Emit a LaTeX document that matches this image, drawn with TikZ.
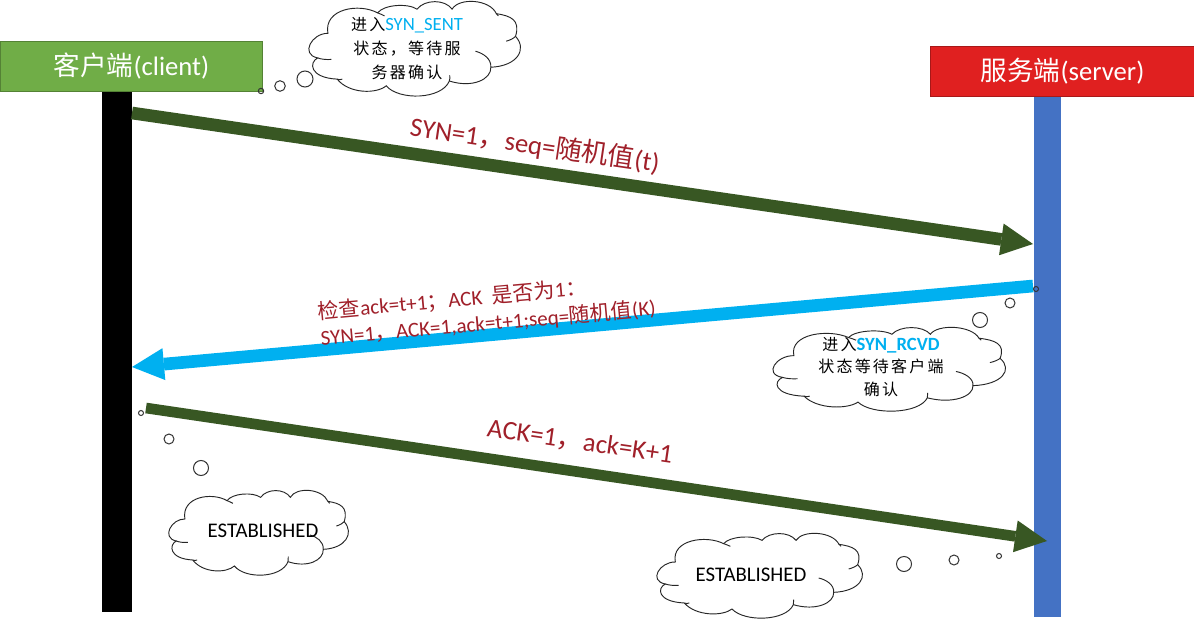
\documentclass[tikz,border=0pt]{standalone}
\usepackage{fontspec}
\setmainfont{Carlito}
\newfontfamily\cjk{Noto Sans CJK SC}
\newfontfamily\cjkw[LetterSpace=14]{Noto Sans CJK SC}
\usetikzlibrary{arrows.meta}
\definecolor{dgreen}{HTML}{385723}
\definecolor{cyanb}{HTML}{00B0F0}
\definecolor{lblred}{HTML}{A0202A}
\definecolor{cgreen}{HTML}{70AD47}
\definecolor{sred}{HTML}{E02020}
\definecolor{sblue}{HTML}{4472C4}
\tikzset{
  headbox/.style={draw=#1!75!black,line width=0.6pt,text=white,minimum height=37.5pt,inner sep=0pt,font=\fontsize{20}{24}\selectfont},
  flow/.style={line width=9.5pt,-{Triangle[length=24pt,width=24pt,line width=0pt]},shorten >=0pt},
  lbl/.style={text=lblred,inner sep=0pt},
  cloudline/.style={draw=black!85,line width=0.7pt},
  bubble/.style={draw=black!80,line width=0.75pt},
  cloudtxt/.style={inner sep=0pt,align=center,text=black}
}
\newcommand{\thoughtcloud}[4]{%
\begin{scope}[shift={(#1,#2)},xscale=#3/618,yscale=#4/258]
\path[fill=white,cloudline] (58,87)
 .. controls (12,86) and (-24,143) .. (28,153)
 .. controls (3,165) and (3,206) .. (85,210)
 .. controls (120,250) and (200,250) .. (228,228)
 .. controls (265,268) and (390,265) .. (412,215)
 .. controls (480,235) and (535,210) .. (533,178)
 .. controls (610,175) and (640,130) .. (605,95)
 .. controls (620,50) and (590,40) .. (549,34)
 .. controls (530,-5) and (440,-10) .. (420,22)
 .. controls (400,-5) and (340,-5) .. (318,22)
 .. controls (290,5) and (220,10) .. (203,32)
 .. controls (150,5) and (45,20) .. (58,87) -- cycle;
\draw[cloudline] (28,153) .. controls (40,157) and (55,158) .. (68,157);
\draw[cloudline] (85,210) .. controls (88,212) and (95,212) .. (100,210);
\draw[cloudline] (412,215) .. controls (414,210) and (414,205) .. (413,200);
\draw[cloudline] (533,178) .. controls (535,155) and (510,140) .. (488,135);
\draw[cloudline] (605,95) .. controls (600,100) and (590,105) .. (578,108);
\draw[cloudline] (549,34) .. controls (552,36) and (554,38) .. (555,40);
\draw[cloudline] (203,32) .. controls (210,34) and (216,37) .. (223,40);
\end{scope}}
\begin{document}
\begin{tikzpicture}[x=0.75pt,y=-0.75pt]
\useasboundingbox[fill=white] (0,0) rectangle (1194,620);
% lifelines
\fill[black] (102,91) rectangle (132,612);
\fill[sblue] (1034,97) rectangle (1061,617);
% heads
\node[headbox=cgreen,fill=cgreen,minimum width=196.5pt,anchor=north west] (client) at (0,41) {{\cjk 客户端}(client)};
\node[headbox=sred,fill=sred,minimum width=198pt,anchor=north west] (server) at (930,46) {{\cjk 服务端}(server)};
% flow end points
\coordinate (f1a) at (132,113); \coordinate (f1b) at (1033,244);
\coordinate (f2a) at (1033,286); \coordinate (f2b) at (132,367);
\coordinate (f3a) at (146,408); \coordinate (f3b) at (1047,541);
\draw[flow,dgreen] (f1a) -- (f1b);
\draw[flow,cyanb] (f2a) -- (f2b);
\draw[flow,dgreen,line width=8pt] (f3a) -- (f3b);
% labels
\node[lbl,rotate=-8.4,font=\fontsize{20}{24}\selectfont] (l1) at (535,145) {SYN=1{\cjk ，}seq={\cjk 随机值}(t)};
\node[lbl,rotate=5.2,align=left,font=\fontsize{15.8}{20}\selectfont] (l2) at (487,310) {{\cjk 检查}ack=t+1{\cjk ；}ACK\ \ {\cjk 是否为}1{\cjk ：}\\[0pt]SYN=1{\cjk ，}ACK=1,ack=t+1;seq={\cjk 随机值}(K)};
\node[lbl,rotate=-8.2,font=\fontsize{20}{24}\selectfont] (l3) at (580,442) {ACK=1{\cjk ，}ack=K+1};
% clouds
\foreach \cx/\cy/\cr in {261/91/2.7,280/86/5.3,305/79/8,
  1036/289/2.5,1010/303/5,980/320/7.5,
  141/413/2.5,169/439/5,201/468/7.5,
  999/556/2.5,954/560/5,904/564/7.5}
  \draw[bubble] (\cx,\cy) circle[radius=\cr*0.75pt];
\thoughtcloud{308}{1}{212}{96}
\thoughtcloud{772}{327}{233}{85}
\thoughtcloud{168}{490}{180}{86}
\thoughtcloud{656}{533}{206}{86}
\node[cloudtxt,font=\fontsize{12}{18}\selectfont] (c1) at (407,49) {{\cjkw 进入}{\fontsize{14}{18}\selectfont\color{cyanb}SYN\_SENT}\\{\cjkw 状态，等待服}\\{\cjkw 务器确认}};
\node[cloudtxt,font=\fontsize{12}{17}\selectfont] (c2) at (881,367) {{\cjkw 进入}{\fontsize{14}{17}\selectfont\bfseries\color{cyanb}SYN\_RCVD}\\{\cjkw 状态等待客户端}\\{\cjkw 确认}};
\node[cloudtxt,font=\fontsize{15.6}{18}\selectfont] (c3) at (263,531) {ESTABLISHED};
\node[cloudtxt,font=\fontsize{15.6}{18}\selectfont] (c4) at (751,575) {ESTABLISHED};
\end{tikzpicture}
\end{document}
